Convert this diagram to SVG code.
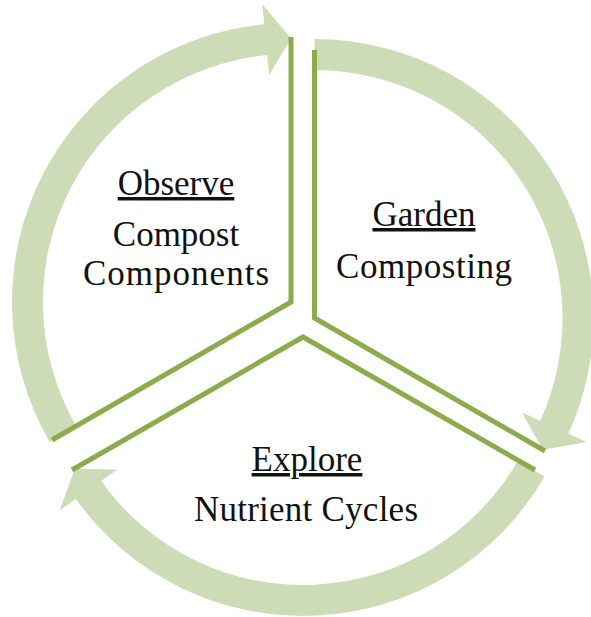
<svg xmlns="http://www.w3.org/2000/svg" width="591" height="617" viewBox="0 0 591 617">
  <style>
    .band { fill: #cddbb7; }
    .edge { fill: none; stroke: #8cab4c; stroke-width: 5; stroke-linejoin: miter; stroke-linecap: butt; }
    text { font-family: "Liberation Serif", "Times New Roman", serif; font-size: 35px; fill: #111; text-anchor: middle; }
    .title { text-decoration: underline; }
  </style>
  <rect width="591" height="617" fill="#ffffff"/>

  <!-- curved arrows running clockwise round each segment -->
  <g id="arrows">
    <path id="arrow-observe" class="band" d="M76.2,426 L49.4,441.5 A279,279 0 0 1 264.3,24.3 L262.4,4.4 L291,38.5 L269.2,75.1 L267.2,55.1 A248,248 0 0 0 76.2,426 Z"/>
    <path id="arrow-garden" class="band" d="M314.5,70 L314.5,39 A279,279 0 0 1 568.4,433.7 L586.6,442 L542.7,449.8 L522,412.6 L540.2,420.8 A248,248 0 0 0 314.5,70 Z"/>
    <path id="arrow-explore" class="band" d="M517.8,461 L544.6,476.5 A279,279 0 0 1 75.9,499 L59.6,510.6 L74.8,468.8 L117.4,469.4 L101.1,481 A248,248 0 0 0 517.8,461 Z"/>
  </g>

  <!-- radial edges of the three segments -->
  <g id="connectors">
    <polyline class="edge" points="291,37 291,302 52,440"/>
    <polyline class="edge" points="314.5,50 314.5,318 545,451"/>
    <polyline class="edge" points="72,470 303,337 535,470"/>
  </g>

  <g id="node-observe">
    <text class="title" x="176" y="195">Observe</text>
    <text x="176" y="246">Compost</text>
    <text x="176" y="285" textLength="186" lengthAdjust="spacing">Components</text>
  </g>
  <g id="node-garden">
    <text class="title" x="424" y="226">Garden</text>
    <text x="424" y="278" textLength="176" lengthAdjust="spacing">Composting</text>
  </g>
  <g id="node-explore">
    <text class="title" x="307" y="471">Explore</text>
    <text x="306" y="521" textLength="224" lengthAdjust="spacing">Nutrient Cycles</text>
  </g>
</svg>
